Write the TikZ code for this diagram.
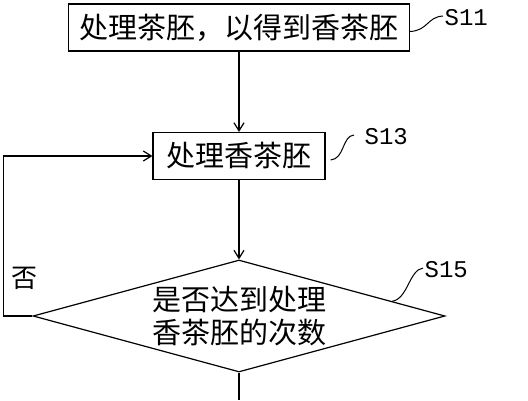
\documentclass[tikz,border=0pt]{standalone}
\usepackage{fontspec}
\newfontfamily\cjk{Noto Sans CJK SC}
\newfontfamily\tagfont{Liberation Mono}
\usetikzlibrary{shapes.geometric, arrows.meta, calc}

\begin{document}
\begin{tikzpicture}[x=1pt, y=-1pt, line width=1.2pt,
  stepbox/.style={draw, font=\cjk\fontsize{29}{33}\selectfont, inner xsep=11pt, minimum height=47pt},
  checkbox/.style={draw, diamond, aspect=3.68, inner sep=0pt, minimum width=412pt, minimum height=112pt,
    align=center, font=\cjk\fontsize{29}{33}\selectfont},
  steptag/.style={font=\tagfont\fontsize{24}{24}\selectfont, inner sep=1pt, anchor=west},
  flow/.style={-{Straight Barb[length=8pt, width=10pt]}}]
  \useasboundingbox (0,0) rectangle (528,400);

  \node[stepbox] (s11) at (239,27.5) {处理茶胚，以得到香茶胚};
  \node[stepbox, minimum width=172pt] (s13) at (239,156) {处理香茶胚};
  \node[checkbox] (s15) at (239,316) {是否达到处理\\香茶胚的次数};
  \node[font=\cjk\fontsize{26}{26}\selectfont] (no) at (25,278) {否};
  \coordinate (out) at (239,400);

  \node[steptag] (t11) at (443,18) {S11};
  \node[steptag] (t13) at (363,137) {S13};
  \node[steptag] (t15) at (423,270) {S15};

  % main flow
  \draw[flow] (s11) -- (s13);
  \draw[flow] (s13) -- (s15);
  \draw (s15) -- (out);
  \draw[flow] (s15.west) -- ++(-29,0) |- (s13.west);

  % step tags
  \draw[line width=1pt] ([yshift=-4pt]s11.east) .. controls +(18,-1) and +(-16,1) .. ([yshift=2pt]t11.west);
  \draw[line width=1pt] ([xshift=5pt,yshift=-4pt]s13.east) .. controls +(14,-1) and +(-12,1) .. ([xshift=-9pt,yshift=2pt]t13.west);
  \draw[line width=1pt] ($(s15.north)!0.74!(s15.east)$) .. controls +(16,-2) and +(-14,2) .. ([yshift=2pt]t15.west);
\end{tikzpicture}
\end{document}
